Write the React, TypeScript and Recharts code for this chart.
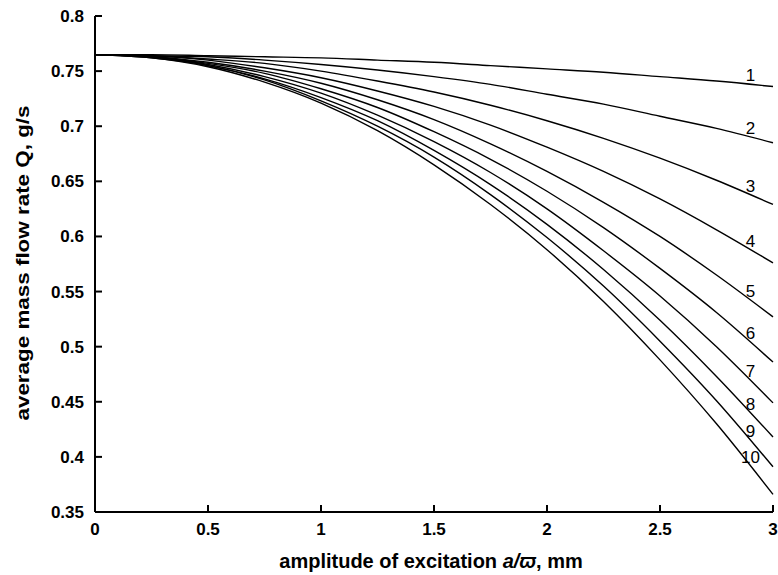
import { Label, Line, LineChart, ReferenceDot, XAxis, YAxis } from "recharts";

// amplitude of excitation, mm
const xValues = [0, 0.25, 0.5, 0.75, 1, 1.25, 1.5, 1.75, 2, 2.25, 2.5, 2.75, 3];

// average mass flow rate Q, g/s — curves 1..10
const q1 = [0.765, 0.765, 0.764, 0.763, 0.762, 0.76, 0.758, 0.755, 0.752, 0.749, 0.745, 0.741, 0.736];
const q2 = [0.765, 0.764, 0.763, 0.76, 0.756, 0.751, 0.745, 0.738, 0.729, 0.72, 0.709, 0.698, 0.685];
const q3 = [0.765, 0.764, 0.761, 0.757, 0.75, 0.741, 0.731, 0.719, 0.705, 0.689, 0.671, 0.651, 0.629];
const q4 = [0.765, 0.764, 0.76, 0.753, 0.744, 0.732, 0.718, 0.701, 0.681, 0.659, 0.634, 0.606, 0.576];
const q5 = [0.765, 0.763, 0.758, 0.75, 0.739, 0.724, 0.706, 0.684, 0.659, 0.631, 0.6, 0.565, 0.527];
const q6 = [0.765, 0.763, 0.757, 0.748, 0.734, 0.717, 0.695, 0.67, 0.641, 0.608, 0.571, 0.531, 0.486];
const q7 = [0.765, 0.763, 0.756, 0.745, 0.73, 0.71, 0.686, 0.658, 0.625, 0.587, 0.546, 0.5, 0.449];
const q8 = [0.765, 0.763, 0.755, 0.743, 0.726, 0.705, 0.678, 0.647, 0.611, 0.57, 0.524, 0.473, 0.418];
const q9 = [0.765, 0.762, 0.755, 0.742, 0.723, 0.7, 0.672, 0.638, 0.599, 0.555, 0.505, 0.451, 0.391];
const q10 = [0.765, 0.762, 0.754, 0.74, 0.721, 0.696, 0.665, 0.629, 0.588, 0.541, 0.488, 0.43, 0.366];

const series = [q1, q2, q3, q4, q5, q6, q7, q8, q9, q10];
const curveNames = ["1", "2", "3", "4", "5", "6", "7", "8", "9", "10"];

const xTicks = [0, 0.5, 1, 1.5, 2, 2.5, 3];
const yTicks = [0.35, 0.4, 0.45, 0.5, 0.55, 0.6, 0.65, 0.7, 0.75, 0.8];

const LABEL_X = 2.9;
const FONT = "'Liberation Sans', Arial, sans-serif";
const TICK_GAP = 11;
const TICK_LEN = 7;

const rows = xValues.map((x, i) => {
  const row: Record<string, number> = { x };
  series.forEach((s, k) => {
    row[`q${k + 1}`] = s[i];
  });
  return row;
});

// value of a curve at LABEL_X, linear between the last two read points
function valueAt(s: number[], x: number) {
  const n = xValues.length;
  const t = (x - xValues[n - 2]) / (xValues[n - 1] - xValues[n - 2]);
  return s[n - 2] + (s[n - 1] - s[n - 2]) * t;
}

// tick label plus an inward tick mark
function LeftTick({ x, y, payload }: any) {
  const ax = x + TICK_GAP;
  return (
    <g>
      <line x1={ax} x2={ax + TICK_LEN} y1={y} y2={y} stroke="#000" strokeWidth={2} />
      <text x={x} y={y} dy="0.355em" textAnchor="end" fontSize={17} fontWeight="bold" fontFamily={FONT} fill="#000">
        {payload.value}
      </text>
    </g>
  );
}

function BottomTick({ x, y, payload }: any) {
  const ay = y - TICK_GAP;
  return (
    <g>
      <line x1={x} x2={x} y1={ay} y2={ay - TICK_LEN} stroke="#000" strokeWidth={2} />
      <text x={x} y={y} dy="0.71em" textAnchor="middle" fontSize={17} fontWeight="bold" fontFamily={FONT} fill="#000">
        {payload.value}
      </text>
    </g>
  );
}

function XTitle({ viewBox }: any) {
  const { x, y, width } = viewBox;
  return (
    <text x={x + width / 2 - 3} y={y + 56} textAnchor="middle" fontSize={20} fontWeight="bold" fontFamily={FONT} fill="#000">
      amplitude of excitation <tspan fontStyle="italic">a/ϖ</tspan>, mm
    </text>
  );
}

function YTitle() {
  return (
    <text
      x={0}
      y={0}
      transform="translate(29, 263) rotate(-90) scale(1.18, 1)"
      textAnchor="middle"
      fontSize={19}
      fontWeight="bold"
      fontFamily={FONT}
      fill="#000"
    >
      average mass flow rate Q, g/s
    </text>
  );
}

export default function App() {
  return (
    <div style={{ position: "absolute", left: 0, top: 0, width: 778, height: 575, background: "#fff" }}>
      <LineChart width={778} height={575} data={rows} margin={{ top: 16, right: 5, left: 0, bottom: 18 }}>
        <XAxis
          dataKey="x"
          type="number"
          domain={[0, 3]}
          ticks={xTicks}
          height={45}
          tickSize={0}
          tickMargin={TICK_GAP}
          tick={<BottomTick />}
          tickLine={false}
          axisLine={{ stroke: "#000", strokeWidth: 2 }}
        >
          <Label content={<XTitle />} />
        </XAxis>
        <YAxis
          type="number"
          domain={[0.35, 0.8]}
          ticks={yTicks}
          width={95}
          tickSize={0}
          tickMargin={TICK_GAP}
          tick={<LeftTick />}
          tickLine={false}
          axisLine={{ stroke: "#000", strokeWidth: 2 }}
        >
          <Label content={<YTitle />} />
        </YAxis>
        {series.map((_, k) => (
          <Line
            key={k}
            dataKey={`q${k + 1}`}
            type="monotone"
            stroke="#000"
            strokeWidth={1.4}
            dot={false}
            activeDot={false}
            isAnimationActive={false}
          />
        ))}
        {series.map((s, k) => (
          <ReferenceDot
            key={`lbl-${k}`}
            x={LABEL_X}
            y={valueAt(s, LABEL_X)}
            r={0}
            stroke="none"
            fill="none"
            label={{ value: curveNames[k], position: "top", offset: 3, fontSize: 17, fontFamily: FONT, fill: "#000" }}
          />
        ))}
      </LineChart>
    </div>
  );
}
